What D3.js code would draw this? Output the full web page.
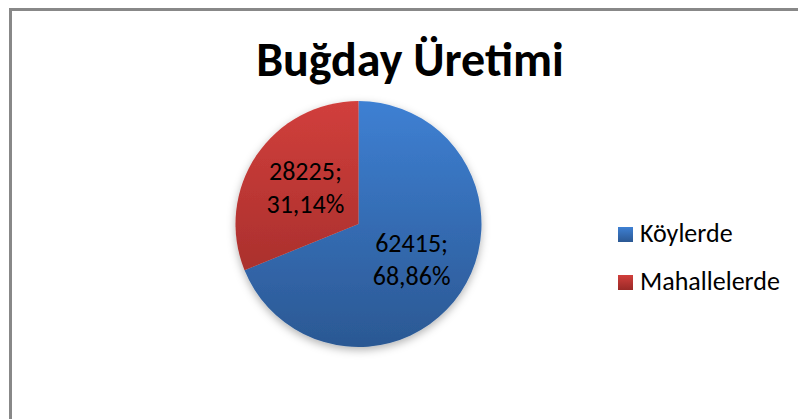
<!DOCTYPE html>
<html>
<head>
<meta charset="utf-8">
<script src="https://cdn.jsdelivr.net/npm/d3@7"></script>
<style>
	html, body { margin: 0; padding: 0; background: #fff; }
	svg { display: block; }
	text { font-family: Carlito, Calibri, Lato, sans-serif; fill: #000; }
</style>
</head>
<body>
<div id="chart"></div>
<script>
// data
var chartTitle = 'Buğday Üretimi';
var categories = ['Köylerde', 'Mahallelerde'];
var values = [62415, 28225];
var percentLabels = ['68,86%', '31,14%'];
var seriesColors = [
	{ top: '#3e80d3', bottom: '#2b5893' }, // blue
	{ top: '#d13f3c', bottom: '#992926' }  // red
];

var width = 798,
	height = 419;
var cx = 358.5,
	cy = 224,
	radius = 123;

var svg = d3.select('#chart')
	.append('svg')
	.attr('width', width)
	.attr('height', height);

var defs = svg.append('defs');

// vertical gradients for slices (pie box, local coords) and legend squares
seriesColors.forEach(function (c, i) {
	var g = defs.append('linearGradient')
		.attr('id', 'slice' + i)
		.attr('gradientUnits', 'userSpaceOnUse')
		.attr('x1', 0).attr('x2', 0)
		.attr('y1', -radius).attr('y2', radius);
	g.append('stop').attr('offset', '0%').attr('stop-color', c.top);
	g.append('stop').attr('offset', '100%').attr('stop-color', c.bottom);

	var lg = defs.append('linearGradient')
		.attr('id', 'key' + i)
		.attr('x1', 0).attr('x2', 0)
		.attr('y1', 0).attr('y2', 1);
	lg.append('stop').attr('offset', '0%').attr('stop-color', c.top);
	lg.append('stop').attr('offset', '100%').attr('stop-color', c.bottom);
});

// soft shadow under the pie
var shadow = defs.append('filter')
	.attr('id', 'pieShadow')
	.attr('x', '-20%').attr('y', '-20%')
	.attr('width', '140%').attr('height', '140%');
shadow.append('feDropShadow')
	.attr('dx', 0)
	.attr('dy', 3)
	.attr('stdDeviation', 4)
	.attr('flood-color', '#000')
	.attr('flood-opacity', 0.3);

// chart area border (runs off the right and bottom edges)
svg.append('rect')
	.attr('x', 10.5)
	.attr('y', 9.5)
	.attr('width', width + 20)
	.attr('height', height + 20)
	.attr('fill', '#fff')
	.attr('stroke', '#888888')
	.attr('stroke-width', 3);

// title
svg.append('text')
	.attr('x', 410)
	.attr('y', 76)
	.attr('text-anchor', 'middle')
	.style('font-size', '48px')
	.style('font-weight', 'bold')
	.text(chartTitle);

// pie
var pie = d3.pie()
	.sort(null)
	.value(function (d) { return d; });

var arc = d3.arc()
	.innerRadius(0)
	.outerRadius(radius);

var labelArc = d3.arc()
	.innerRadius(64)
	.outerRadius(64);

var arcs = pie(values);

var pieG = svg.append('g')
	.attr('transform', 'translate(' + cx + ',' + cy + ')');

pieG.append('g')
	.attr('filter', 'url(#pieShadow)')
	.selectAll('path')
	.data(arcs)
	.enter()
	.append('path')
	.attr('d', arc)
	.attr('fill', function (d, i) { return 'url(#slice' + i + ')'; });

// data labels: "value;" over "percent"
var labels = pieG.selectAll('.label')
	.data(arcs)
	.enter()
	.append('text')
	.attr('class', 'label')
	.attr('text-anchor', 'middle')
	.style('font-size', '26px')
	.attr('transform', function (d) {
		var c = labelArc.centroid(d);
		return 'translate(' + c[0] + ',' + c[1] + ')';
	});

labels.append('tspan')
	.attr('x', 0)
	.attr('y', -8)
	.text(function (d) { return d.data + ';'; });

labels.append('tspan')
	.attr('x', 0)
	.attr('y', 25)
	.text(function (d, i) { return percentLabels[i]; });

// legend
var legend = svg.append('g')
	.attr('transform', 'translate(618, 227)');

var items = legend.selectAll('g')
	.data(categories)
	.enter()
	.append('g')
	.attr('transform', function (d, i) { return 'translate(0,' + i * 48 + ')'; });

items.append('rect')
	.attr('width', 15)
	.attr('height', 15)
	.attr('fill', function (d, i) { return 'url(#key' + i + ')'; });

items.append('text')
	.attr('x', 22)
	.attr('y', 15)
	.style('font-size', '26px')
	.text(function (d) { return d; });
</script>
</body>
</html>
